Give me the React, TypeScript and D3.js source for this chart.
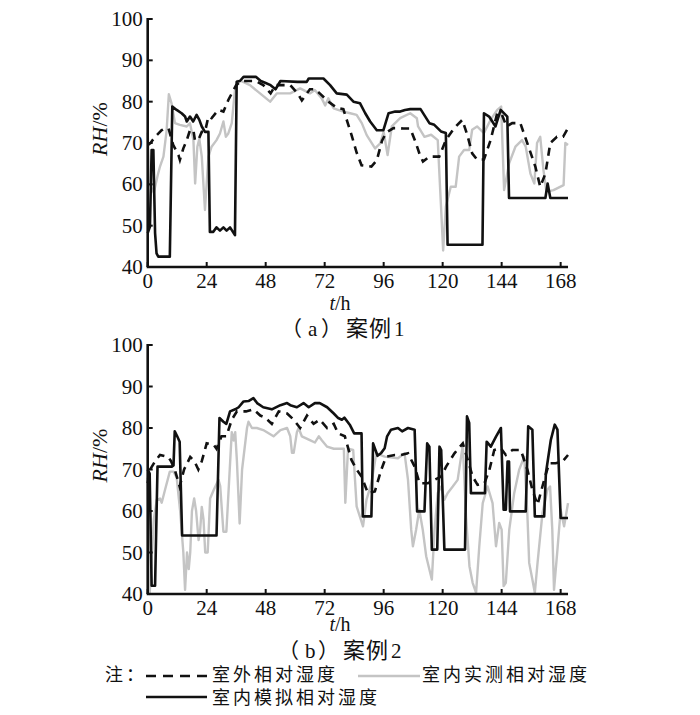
import React from 'react';
import * as d3 from 'd3';

type Pt = [number, number];

// 案例1 (hours, RH %)
const case1Outdoor: Pt[] = [[0,69.5],[1,69.9],[3,71.5],[5.7,73.1],[7,73.5],[8.5,73.5],[9.8,70.7],[10.4,69.5],[12.5,67.1],[13.1,65.9],[14.5,68.7],[15.9,70.7],[17.2,73.1],[18.6,73.1],[19.2,70.7],[20.6,70.7],[22,72.7],[23.3,72.7],[24.7,76.4],[26,76],[28.7,78],[30.8,77.6],[32.8,80.4],[34.2,82],[36,84],[38,85],[44,85],[47,84],[50,82],[52,84],[58,84],[61,82],[62.7,80.3],[66,83],[68,83],[70,82],[73.5,80],[77,78.5],[79.6,78.2],[81.3,75],[83,71.8],[85,67.7],[87,64.6],[91,64.3],[93.2,65.8],[95.3,70.5],[97,72.5],[100,73.6],[102,73.6],[104,73.5],[106.8,73.5],[108.8,70.5],[110.8,67],[112,65.5],[114.6,66.7],[118.6,66.7],[121.3,70.7],[124.7,73.6],[128,75.6],[130,72],[132,67.5],[134,66],[136.8,66],[139.5,70.7],[142.2,77.2],[144,77],[146,74],[148.3,74.8],[151.6,74.8],[154.4,70],[157.7,64.3],[159.7,59.4],[161.8,62.6],[163.8,70],[166.5,71.5],[169,71.5],[171,73.6]];
const case1Measured: Pt[] = [[0,72.5],[0.8,60],[2.5,58],[4,62],[5,64.3],[6.4,66.7],[7.7,73],[8.6,81.8],[9.7,79.6],[11.1,74.8],[13.1,74.4],[15.9,74],[17.2,74.8],[18.6,70.7],[19.3,60.2],[20.2,69.1],[21,71],[22,66.7],[23.3,53.8],[24.7,66.7],[26,69.1],[28,70.7],[29.4,72.3],[30.8,75.2],[31.8,71.5],[32.8,72.3],[34.2,74.8],[35.5,82.8],[36.5,85],[38,85],[41.6,84],[45.7,82],[49.8,80],[52.5,82],[58,82],[62,83.2],[66,82],[68,82.8],[70.8,80.8],[72.2,79.1],[73.5,80.8],[75.6,78.4],[79.6,77.6],[82.4,77.2],[85,76.8],[87.1,74.8],[89.1,71.9],[92.5,68.7],[94.6,69.9],[96,72.7],[97.6,67.1],[99.3,74],[102.7,76],[106.8,77.2],[109.5,76],[110,74],[112.6,71.5],[115.3,72],[118,70.7],[119.2,56.2],[120.2,44],[121.3,54.6],[123.3,59.4],[125.3,59.4],[126.7,66.7],[128.7,68.3],[130.8,68.3],[132,73.2],[134,74],[136.8,72.4],[139.5,75.6],[142.2,78],[143.8,78.8],[145,58.6],[147,65],[149.6,69.1],[152.3,70.7],[153.8,69.1],[155.7,62.6],[157.3,60.2],[158.4,70],[159.7,71.5],[161,63.5],[162.2,58.2],[165.1,58.6],[169.2,59.8],[169.9,70],[171,69.5]];
const case1Simulated: Pt[] = [[0,48.2],[0.9,49.7],[1.6,68.3],[2.3,68.3],[3,48.2],[3.6,43.3],[4.3,42.5],[9,42.5],[10,78.8],[11.8,78],[13.8,77.2],[15.2,76.4],[15.9,75.2],[17.2,76.4],[18.5,75.2],[19.9,76.8],[21,75.6],[22,74],[23.3,72.7],[24.7,72.7],[25.3,48.5],[26.7,48.5],[28,49.6],[29.4,48.8],[30.8,49.6],[32.1,48.8],[33.5,49.6],[35.5,47.7],[36.2,84.8],[37.5,85],[39,86],[44,86],[46,85],[48,84.5],[50,84],[52,83],[54,85],[61,84.8],[64.7,84.8],[65.5,85.6],[71.5,85.6],[74.2,84],[76.9,82],[81,81.7],[83.7,80],[86.4,79.6],[88.5,77.2],[90.5,75.2],[93.2,73.1],[95.9,73.1],[98,77.2],[100.7,77.6],[102.7,77.6],[104.7,78],[106.8,78.2],[111,78.2],[114.6,74.8],[116.6,74.4],[119.3,72.8],[121.3,72.4],[122,45.4],[136.2,45.4],[136.8,77.2],[138.9,76.4],[141.5,74],[143.6,78],[146.3,76.4],[147,56.7],[161.8,56.7],[162.7,60.2],[163.8,56.7],[171,56.7]];

// 案例2
const case2Outdoor: Pt[] = [[0,66.7],[1,70],[3,72],[5,73.5],[8.4,73],[9.5,72],[11,70],[13,65.9],[14.8,70],[17.3,73],[19,72],[20.6,70],[22,72],[24,76.3],[26.8,76],[28,75],[30,78],[32,78],[34.2,82],[36.3,84],[40,84],[43,84.5],[45.8,83],[47.8,82.5],[50.5,81],[53.3,84],[56.7,83.5],[59.4,82],[62,80],[64.8,83],[67.5,81],[70,82],[73,80],[75.7,81],[77.5,78.7],[80.2,78],[82.9,72.3],[85,70],[87,68.3],[89.6,64.3],[92.4,64.7],[95,69.9],[97,73.1],[100.5,73.5],[103,73.5],[105.9,73.9],[108.6,70.7],[110.6,66.7],[114,66.7],[116.7,67.5],[119.4,68.3],[121.4,70.7],[124.8,73.9],[128.2,76.3],[130.2,72.3],[132.2,68.3],[134.2,66.3],[137,66.7],[139,69.9],[141,74.7],[143.7,75.1],[145.7,73.5],[148.4,74.7],[151.8,74.7],[154.5,69.9],[156.5,65.1],[158.6,61.5],[161.3,67.5],[163.3,71.5],[166,71.5],[168.7,71.9],[171,73.5]];
const case2Measured: Pt[] = [[0,68],[0.8,40],[2.5,58],[3.7,62.7],[5,63],[5.7,62],[7,65],[9,69.5],[10.5,69.5],[11.8,68],[13.2,60],[14.5,50],[15.2,41],[16,50],[16.7,46],[17.3,50],[18,60],[18.9,63],[19.7,60],[20.7,53],[21.3,55],[22,61],[22.7,58],[23.4,50],[24.4,50],[25.4,63],[26.8,65],[28.8,67.5],[29.5,66],[30.8,55],[32,55],[34.2,79],[35,77],[35.6,79],[36.3,72],[37.4,57],[38.4,70],[40.4,80],[41,81.5],[42.4,80],[44.4,80],[47,79.5],[51.2,78],[54,79.5],[56.7,80],[58,78],[58.7,74],[59.4,74],[60.7,79],[61.4,80],[62.7,78],[66.2,77],[68,76.5],[69.6,78],[70.9,77],[73,75.5],[75.7,75],[79.8,75],[80.4,62],[81.5,75],[83.6,74.7],[85,61.1],[86.3,58.7],[87.6,56.3],[89,62.7],[91,66.7],[93,73.9],[96.4,73.1],[101.8,72.7],[104.5,73.9],[105.9,67.5],[107.2,55.5],[107.9,51.5],[109.2,55.5],[110.5,60.3],[111.9,55.5],[113.3,49.1],[114.6,45.9],[115.6,43.5],[116.7,55.5],[118,64.3],[119.4,65.9],[120.7,62.7],[122,64.3],[124.1,65.9],[126.1,67.5],[128.2,75.9],[129.5,58.7],[130.9,46.7],[132.2,42.7],[133.6,40.3],[134.9,51.5],[136.3,61.9],[138.3,65.9],[140.3,61.9],[141.7,51.5],[143,57.1],[144,55.5],[144.8,41.9],[145.7,42.7],[147.1,55.5],[149.1,64.3],[151.1,69.9],[153.2,73.1],[154.5,58.7],[155.2,47.5],[156.5,43.5],[157.5,40.3],[158.6,47.5],[160.6,59.5],[162.6,65.1],[163.7,65.9],[164.6,55.5],[165.3,41],[166.7,50.7],[168,60.3],[169.4,56.3],[171,61.9]];
const case2Simulated: Pt[] = [[0,70],[0.8,69],[1.6,42],[3,42],[4,70.7],[9.8,70.7],[10.5,71],[11,79.2],[12,78],[13,76.7],[14,54.1],[28,54.1],[29.2,82.4],[30.8,81.5],[32,81],[33.5,84],[35.6,84.5],[37,85],[39,86.4],[41,86.5],[43,87.2],[44.5,86],[47,85],[50.5,84.5],[54,85.5],[56.7,86],[58,85.5],[60.7,85],[63.4,86],[65.5,85],[68,86],[70,86],[73,85],[75.7,83.5],[77.5,82.4],[79,82],[80,82.5],[82.2,80.8],[84,78.7],[87,78.7],[87.5,58.7],[91,58.7],[91.7,76.3],[93.5,73.3],[95,74],[96.4,75.1],[97.4,78],[99,79.6],[101.8,80],[103.5,79.2],[105.9,80],[108.6,79.6],[109.6,59.9],[112.6,59.9],[113.7,76.3],[114.6,75.5],[115.6,50.7],[117.8,50.7],[118.7,75.5],[119.4,74.7],[120.7,50.7],[129.1,50.7],[129.9,82.8],[130.8,81.2],[131.5,64.3],[137.2,64.3],[137.9,76.7],[139.6,75.5],[141.7,77.9],[143.7,80],[144.8,60.3],[145.7,60.3],[146.4,71.9],[147,71.9],[147.4,59.9],[153.8,59.9],[154.8,80.4],[156.5,79.6],[157.5,58.7],[161.3,58.7],[162,69.1],[164,77.1],[165.6,80.8],[166.7,79.6],[168,58.3],[171,58.3]];

const hourTicks = [0, 24, 48, 72, 96, 120, 144, 168];
const rhTicks = [40, 50, 60, 70, 80, 90, 100];
const legendLabels = ['室外相对湿度', '室内实测相对湿度', '室内模拟相对湿度'];

const SERIF = "'Liberation Serif', 'DejaVu Serif', serif";
const CJK = "'Noto Sans CJK SC', sans-serif";
const GREY = '#c4c4c4';

const x0 = 147.7;
const pxPerHour = 2.458;

interface PanelProps {
  top: number;
  bottom: number;
  letter: string;
  num: string;
  unitY: number;
  captionY: number;
  captionX: number;
  outdoor: Pt[];
  measured: Pt[];
  simulated: Pt[];
}

const Panel = ({ top, bottom, letter, num, unitY, captionY, captionX, outdoor, measured, simulated }: PanelProps) => {
  const x = d3.scaleLinear().domain([0, 171]).range([x0, x0 + 171 * pxPerHour]);
  const y = d3.scaleLinear().domain([40, 100]).range([bottom, top]);
  const line = d3.line<Pt>().x(d => x(d[0])).y(d => y(d[1]));
  const midY = (top + bottom) / 2 - 14;
  const cx = captionX;
  return (
    <g>
      <path d={line(measured) || ''} fill="none" stroke={GREY} strokeWidth={2.4} strokeLinejoin="round" />
      <path d={line(outdoor) || ''} fill="none" stroke="#111" strokeWidth={2.6} strokeDasharray="8,6" />
      <path d={line(simulated) || ''} fill="none" stroke="#111" strokeWidth={2.6} strokeLinejoin="round" />
      <line x1={x(0)} x2={x(0)} y1={y(100) - 1} y2={y(40)} stroke="#111" strokeWidth={2.6} />
      <line x1={x(0) - 1} x2={x(171)} y1={y(40)} y2={y(40)} stroke="#111" strokeWidth={2.6} />
      {rhTicks.map(t => (
        <g key={t}>
          <line x1={x(0)} x2={x(0) + 5} y1={y(t)} y2={y(t)} stroke="#111" strokeWidth={2} />
          <text x={x0 - 5} y={y(t) + 7} textAnchor="end" fontFamily={SERIF} fontSize={21} fill="#111">{t}</text>
        </g>
      ))}
      {hourTicks.map(t => (
        <g key={t}>
          <line x1={x(t)} x2={x(t)} y1={y(40)} y2={y(40) - 5} stroke="#111" strokeWidth={2} />
          <text x={x(t)} y={y(40) + 21} textAnchor="middle" fontFamily={SERIF} fontSize={21} fill="#111">{t}</text>
        </g>
      ))}
      <text transform={`translate(107,${midY}) rotate(-90)`} textAnchor="middle" fontFamily={SERIF} fontSize={22} fill="#111">
        <tspan fontStyle="italic">RH</tspan>/%
      </text>
      <text x={340} y={unitY} textAnchor="middle" fontFamily={SERIF} fontSize={20} fill="#111">
        <tspan fontStyle="italic">t</tspan>/h
      </text>
      <g fontSize={21} fill="#111">
        <text x={cx - 68} y={captionY} fontFamily={CJK}>（</text>
        <text x={cx - 41} y={captionY} fontFamily={SERIF}>{letter}</text>
        <text x={cx - 28} y={captionY} fontFamily={CJK}>）</text>
        <text x={cx - 3} y={captionY} fontFamily={CJK} fontSize={22} letterSpacing={1}>案例</text>
        <text x={cx + 45} y={captionY} fontFamily={SERIF}>{num}</text>
      </g>
    </g>
  );
};

export default function App() {
  return (
    <svg width={700} height={715} style={{ position: 'absolute', left: 0, top: 0, background: '#fff' }}>
      <Panel top={19} bottom={267} letter="a" num="1" unitY={310} captionY={336} captionX={349}
        outdoor={case1Outdoor} measured={case1Measured} simulated={case1Simulated} />
      <Panel top={345} bottom={594} letter="b" num="2" unitY={631} captionY={658} captionX={346}
        outdoor={case2Outdoor} measured={case2Measured} simulated={case2Simulated} />
      <g fontFamily={CJK} fontSize={18} fill="#111" letterSpacing={3}>
        <text x={105} y={681}>注：</text>
        <line x1={146} x2={207} y1={676} y2={676} stroke="#111" strokeWidth={2.6} strokeDasharray="10,7" />
        <text x={212} y={681}>{legendLabels[0]}</text>
        <line x1={358} x2={420} y1={676} y2={676} stroke={GREY} strokeWidth={2.4} />
        <text x={422} y={681}>{legendLabels[1]}</text>
        <line x1={146} x2={207} y1={697} y2={697} stroke="#111" strokeWidth={2.6} />
        <text x={212} y={704}>{legendLabels[2]}</text>
      </g>
    </svg>
  );
}
